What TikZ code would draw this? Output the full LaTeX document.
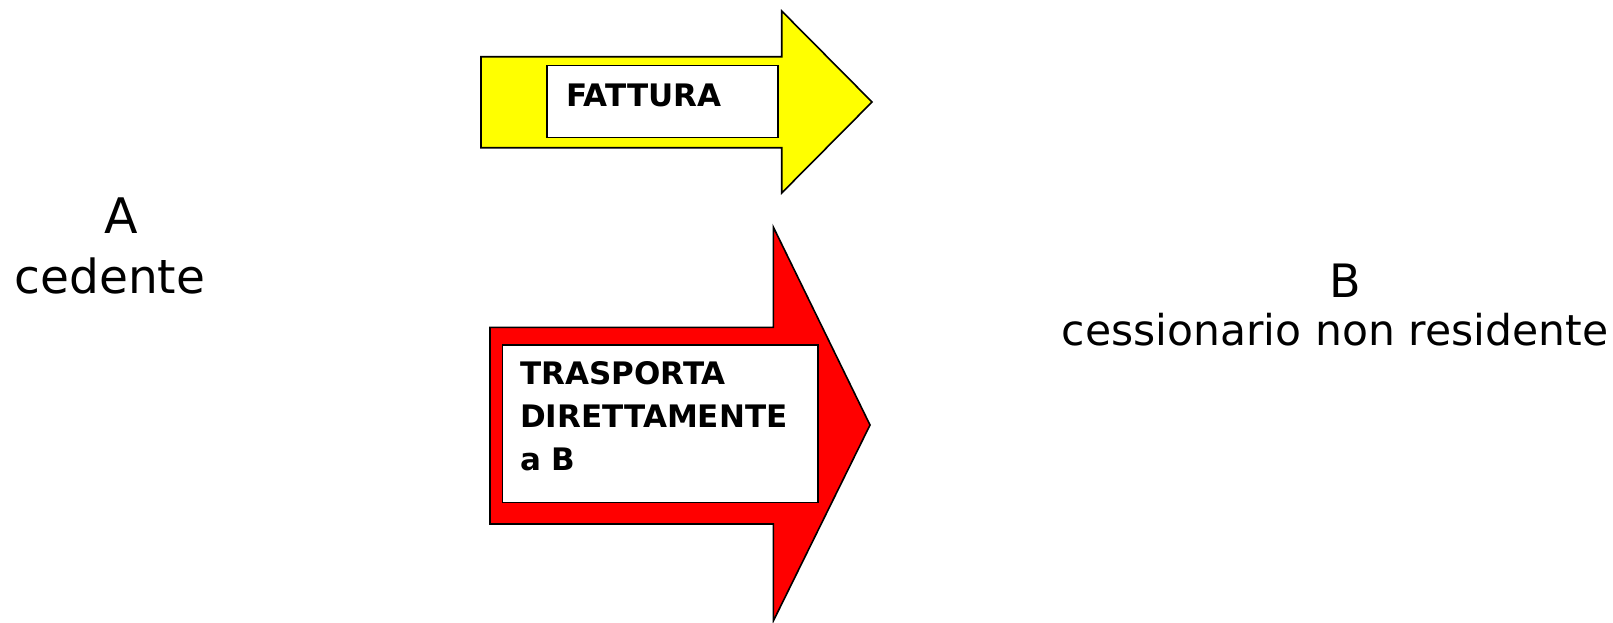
\documentclass[tikz,border=0pt]{standalone}
\usepackage{fontspec}
\setmainfont{DejaVu Sans}
\newfontfamily\boxfont{DejaVu Sans}
\begin{document}
\begin{tikzpicture}[x=1pt,y=-1pt,
  arrowshape/.style={draw=black,line width=1.6pt,line join=miter},
  whitebox/.style={draw=black,fill=white,line width=1.6pt,inner sep=0pt,anchor=north west},
  boxtext/.style={font=\boxfont\bfseries\fontsize{31}{43}\selectfont,inner sep=0pt,anchor=base west,align=left},
  bigtext/.style={inner sep=0pt,anchor=base}]
\useasboundingbox (0,0) rectangle (1613,622);
% yellow arrow
\draw[arrowshape,fill={rgb,255:red,255;green,255;blue,0}]
  (481,56.7) -- (781.7,56.7) -- (781.7,11) -- (872,102) -- (781.7,193) -- (781.7,147.7) -- (481,147.7) -- cycle;
\node[whitebox,minimum width=231pt,minimum height=72pt] (fbox) at (546,64.5) {};
\node[boxtext] (ftext) at (566,106.7) {FATTURA};
% red arrow
\draw[arrowshape,fill={rgb,255:red,255;green,0;blue,0}]
  (490,327.3) -- (773.3,327.3) -- (773.3,227) -- (870,425) -- (773.3,621) -- (773.3,524) -- (490,524) -- cycle;
\node[whitebox,minimum width=315.6pt,minimum height=157.7pt] (tbox) at (501.7,344) {};
\node[boxtext,anchor=north west] (ttext) at (520,361) {TRASPORTA\\DIRETTAMENTE\\a B};
% labels
\node[bigtext,font=\fontsize{49}{60}\selectfont] (A) at (121,233) {A};
\node[bigtext,font=\fontsize{47}{60}\selectfont] (ced) at (110,293) {cedente};
\node[bigtext,font=\fontsize{46}{56}\selectfont] (B) at (1345,297.3) {B};
\node[bigtext,font=\fontsize{42.5}{52}\selectfont] (cess) at (1335,345.5) {cessionario non residente};
\end{tikzpicture}
\end{document}
